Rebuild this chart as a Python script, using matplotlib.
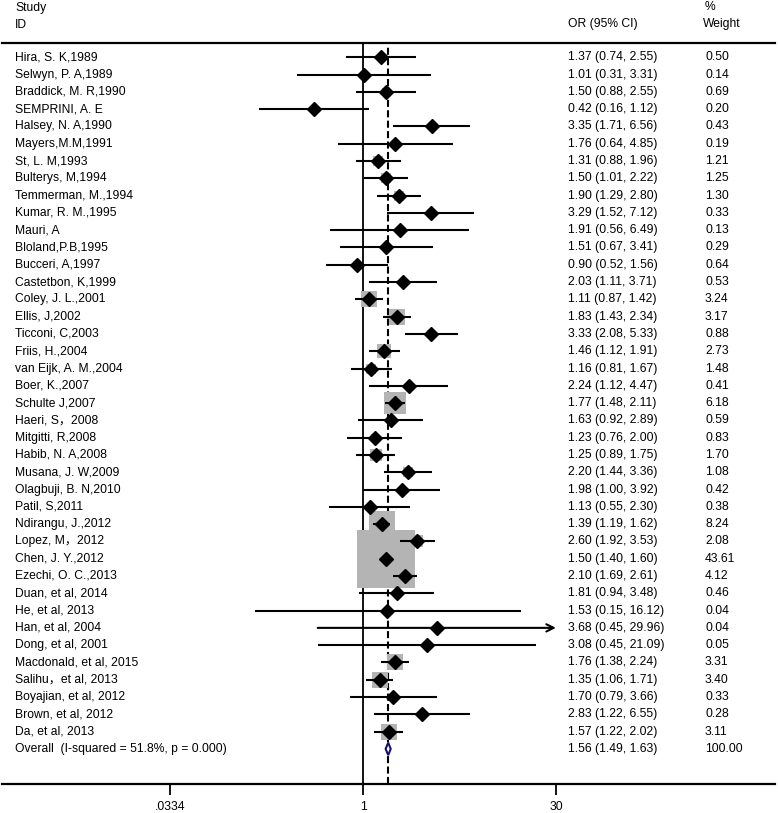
import numpy as np
import matplotlib
matplotlib.use("Agg")
import matplotlib.pyplot as plt
from matplotlib import transforms
from matplotlib.patches import Polygon

# ---------------- data ----------------
study_ids = [
    "Hira, S. K,1989", "Selwyn, P. A,1989", "Braddick, M. R,1990", "SEMPRINI, A. E",
    "Halsey, N. A,1990", "Mayers,M.M,1991", "St, L. M,1993", "Bulterys, M,1994",
    "Temmerman, M.,1994", "Kumar, R. M.,1995", "Mauri, A", "Bloland,P.B,1995",
    "Bucceri, A,1997", "Castetbon, K,1999", "Coley, J. L.,2001", "Ellis, J,2002",
    "Ticconi, C,2003", "Friis, H.,2004", "van Eijk, A. M.,2004", "Boer, K.,2007",
    "Schulte J,2007", "Haeri, S\uff0c2008", "Mitgitti, R,2008", "Habib, N. A,2008",
    "Musana, J. W,2009", "Olagbuji, B. N,2010", "Patil, S,2011", "Ndirangu, J.,2012",
    "Lopez, M\uff0c2012", "Chen, J. Y.,2012", "Ezechi, O. C.,2013", "Duan, et al, 2014",
    "He, et al, 2013", "Han, et al, 2004", "Dong, et al, 2001", "Macdonald, et al, 2015",
    "Salihu\uff0cet al, 2013", "Boyajian, et al, 2012", "Brown, et al, 2012", "Da, et al, 2013",
]
or_vals = [1.37, 1.01, 1.50, 0.42, 3.35, 1.76, 1.31, 1.50, 1.90, 3.29, 1.91, 1.51,
           0.90, 2.03, 1.11, 1.83, 3.33, 1.46, 1.16, 2.24, 1.77, 1.63, 1.23, 1.25,
           2.20, 1.98, 1.13, 1.39, 2.60, 1.50, 2.10, 1.81, 1.53, 3.68, 3.08, 1.76,
           1.35, 1.70, 2.83, 1.57]
ci_lo = [0.74, 0.31, 0.88, 0.16, 1.71, 0.64, 0.88, 1.01, 1.29, 1.52, 0.56, 0.67,
         0.52, 1.11, 0.87, 1.43, 2.08, 1.12, 0.81, 1.12, 1.48, 0.92, 0.76, 0.89,
         1.44, 1.00, 0.55, 1.19, 1.92, 1.40, 1.69, 0.94, 0.15, 0.45, 0.45, 1.38,
         1.06, 0.79, 1.22, 1.22]
ci_hi = [2.55, 3.31, 2.55, 1.12, 6.56, 4.85, 1.96, 2.22, 2.80, 7.12, 6.49, 3.41,
         1.56, 3.71, 1.42, 2.34, 5.33, 1.91, 1.67, 4.47, 2.11, 2.89, 2.00, 1.75,
         3.36, 3.92, 2.30, 1.62, 3.53, 1.60, 2.61, 3.48, 16.12, 29.96, 21.09, 2.24,
         1.71, 3.66, 6.55, 2.02]
weights = [0.50, 0.14, 0.69, 0.20, 0.43, 0.19, 1.21, 1.25, 1.30, 0.33, 0.13, 0.29,
           0.64, 0.53, 3.24, 3.17, 0.88, 2.73, 1.48, 0.41, 6.18, 0.59, 0.83, 1.70,
           1.08, 0.42, 0.38, 8.24, 2.08, 43.61, 4.12, 0.46, 0.04, 0.04, 0.05, 3.31,
           3.40, 0.33, 0.28, 3.11]
# Han's interval is drawn with an arrow in the original
arrow_rows = ["Han, et al, 2004"]

overall_label = "Overall  (I-squared = 51.8%, p = 0.000)"
overall_or, overall_lo, overall_hi, overall_w = 1.56, 1.49, 1.63, 100.00

tick_vals = [0.0334, 1, 30]
tick_labels = [".0334", "1", "30"]
x_clip = (0.0334, 30)

# ---------------- layout ----------------
W, H = 778, 813
fig = plt.figure(figsize=(W / 100, H / 100), dpi=100)
FONT = ["Liberation Sans", "Noto Sans CJK SC", "DejaVu Sans"]
plt.rcParams["font.family"] = FONT
fs = 8.7

px_one = 363.0
px_per_ln = (555.7 - 170.0) / (np.log(30) - np.log(0.0334))
ax_left_px, ax_right_px = 2.0, 775.0
ax_top_px, ax_bot_px = 43.0, 784.0
row0_px, row_step = 57.3, 17.29

ax = fig.add_axes([ax_left_px / W, (H - ax_bot_px) / H,
                   (ax_right_px - ax_left_px) / W, (ax_bot_px - ax_top_px) / H])
ax.set_xscale("log")
ax.set_xlim(np.exp((ax_left_px - px_one) / px_per_ln),
            np.exp((ax_right_px - px_one) / px_per_ln))
ax.set_ylim((ax_bot_px - row0_px) / row_step, (ax_top_px - row0_px) / row_step)

for s in ["left", "right"]:
    ax.spines[s].set_visible(False)
ax.spines["top"].set_linewidth(1.6)
ax.spines["bottom"].set_linewidth(1.6)
ax.set_yticks([])
ax.set_xticks(tick_vals)
ax.set_xticklabels(tick_labels, fontsize=fs)
ax.xaxis.set_minor_locator(matplotlib.ticker.NullLocator())
ax.tick_params(axis="x", direction="out", length=8, width=1.3, pad=4.5)

n = len(study_ids)
rows = np.arange(n)

# reference lines
ax.axvline(1, color="black", lw=1.3, zorder=1)
ax.axvline(overall_or, ymin=0, ymax=0.995, color="black", lw=1.5,
           linestyle=(0, (3.4, 1.6)), zorder=1)

# weight boxes (area proportional to weight)
box_k = 6.32
for i in range(n):
    ax.plot(or_vals[i], rows[i], marker="s", markersize=box_k * np.sqrt(weights[i]),
            color="#b4b4b4", markeredgewidth=0, linestyle="none", zorder=2)

# confidence intervals
for i in range(n):
    lo = max(ci_lo[i], x_clip[0])
    hi = min(ci_hi[i], x_clip[1])
    if study_ids[i] in arrow_rows:
        ax.annotate("", xy=(x_clip[1], rows[i]), xytext=(lo, rows[i]),
                    arrowprops=dict(arrowstyle="->", lw=1.5, color="black",
                                    mutation_scale=13, shrinkA=0, shrinkB=0),
                    zorder=3)
    else:
        ax.plot([lo, hi], [rows[i], rows[i]], color="black", lw=1.5,
                solid_capstyle="butt", zorder=3)

# point estimates
ax.plot(or_vals, rows, marker="D", markersize=6.8, color="black",
        linestyle="none", zorder=4)

# overall diamond
yo = n
dh = 0.36
diamond = Polygon([(overall_lo, yo), (overall_or, yo - dh), (overall_hi, yo),
                   (overall_or, yo + dh)], closed=True, facecolor="white",
                  edgecolor="#14146e", lw=1.5, zorder=5)
ax.add_patch(diamond)

# ---------------- text columns ----------------
tr = transforms.blended_transform_factory(fig.transFigure, ax.transData)
x_id, x_or, x_w = 15 / W, 568 / W, 705 / W
for i in range(n):
    ax.text(x_id, rows[i], study_ids[i], transform=tr, fontsize=fs,
            va="center", ha="left", family=FONT)
    ax.text(x_or, rows[i], f"{or_vals[i]:.2f} ({ci_lo[i]:.2f}, {ci_hi[i]:.2f})",
            transform=tr, fontsize=fs, va="center", ha="left")
    ax.text(x_w, rows[i], f"{weights[i]:.2f}", transform=tr, fontsize=fs,
            va="center", ha="left")
ax.text(x_id, yo, overall_label, transform=tr, fontsize=fs, va="center", ha="left")
ax.text(x_or, yo, f"{overall_or:.2f} ({overall_lo:.2f}, {overall_hi:.2f})",
        transform=tr, fontsize=fs, va="center", ha="left")
ax.text(x_w, yo, f"{overall_w:.2f}", transform=tr, fontsize=fs, va="center", ha="left")

# headers
def ftext(xp, yp, s):
    fig.text(xp / W, 1 - yp / H, s, fontsize=fs, va="center", ha="left")

ftext(15, 7.5, "Study")
ftext(15, 24.5, "ID")
ftext(568, 24.5, "OR (95% CI)")
ftext(705, 7.5, "%")
ftext(703, 24.5, "Weight")

fig.savefig("out.png", dpi=100)
